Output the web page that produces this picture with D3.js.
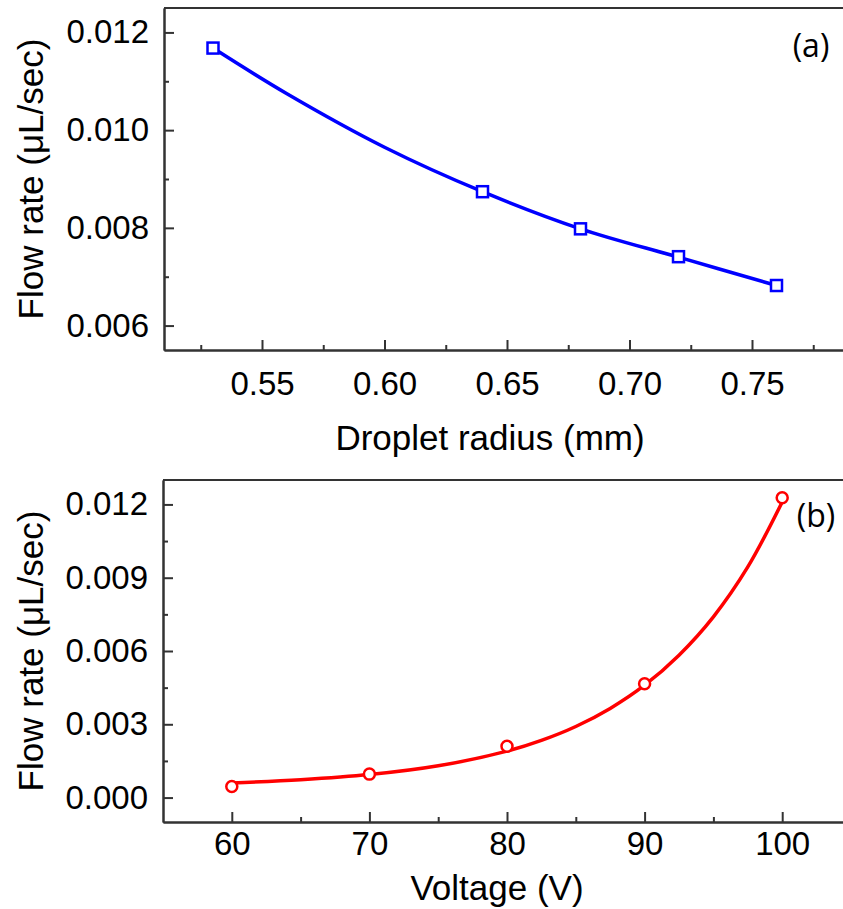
<!DOCTYPE html>
<html>
<head>
<meta charset="utf-8">
<script src="https://cdn.jsdelivr.net/npm/d3@7"></script>
<style>
  body { margin: 0; background: #fff; }
  text { font-family: Arial, "Liberation Sans", Helvetica, sans-serif; fill: #000; }
</style>
</head>
<body>
<div id="chart"></div>
<script>
// ---- panel (a): flow rate vs droplet radius
var radius = [0.53, 0.64, 0.68, 0.72, 0.76];
var flowA = [0.01168, 0.00874, 0.00798, 0.00741, 0.00682];
// fitted curve
var fitRadius = [0.53, 0.56, 0.60, 0.64, 0.68, 0.72, 0.76];
var fitFlowA = [0.01168, 0.01075, 0.00965, 0.00874, 0.00798, 0.00740, 0.00682];
var ticksXA = [0.55, 0.60, 0.65, 0.70, 0.75];
var minorXA = [0.525, 0.575, 0.625, 0.675, 0.725, 0.775];
var ticksYA = [0.006, 0.008, 0.010, 0.012];
var minorYA = [0.007, 0.009, 0.011];

// ---- panel (b): flow rate vs voltage
var voltage = [60, 70, 80, 90, 100];
var flowB = [0.00045, 0.00096, 0.0021, 0.00466, 0.01227];
var fitVoltage = [60, 65, 70, 75, 80, 82.5, 85, 87.5, 90, 92.5, 95, 97.5, 100];
var fitFlowB = [0.0006, 0.00073, 0.00094, 0.0013, 0.0019, 0.00234, 0.00291, 0.00365,
                0.0046, 0.00583, 0.0074, 0.00944, 0.0121];
var ticksXB = [60, 70, 80, 90, 100];
var minorXB = [65, 75, 85, 95];
var ticksYB = [0.000, 0.003, 0.006, 0.009, 0.012];
var minorYB = [0.0015, 0.0045, 0.0075, 0.0105];

var W = 843, H = 909;
var FONT = "Arial, 'Liberation Sans', Helvetica, sans-serif";

var svg = d3.select("#chart")
  .append("svg")
  .attr("width", W)
  .attr("height", H)
  .style("background-color", "white");

function panel(cfg) {
  var x = d3.scaleLinear().domain(cfg.xDomain).range([cfg.left, cfg.right]);
  var y = d3.scaleLinear().domain(cfg.yDomain).range([cfg.bottom, cfg.top]);
  var g = svg.append("g");

  // frame (top border; right edge falls outside the picture)
  g.append("line")
    .attr("x1", cfg.left).attr("x2", cfg.right)
    .attr("y1", cfg.top).attr("y2", cfg.top)
    .attr("stroke", "#333").attr("stroke-width", 2);

  // major + minor y ticks, pointing inward
  g.append("g")
    .attr("transform", "translate(" + cfg.left + ",0)")
    .call(d3.axisLeft(y).tickValues(cfg.yTicks).tickSize(-10).tickSizeOuter(0)
      .tickPadding(15).tickFormat(d3.format(".3f")));
  g.append("g")
    .attr("transform", "translate(" + cfg.left + ",0)")
    .call(d3.axisLeft(y).tickValues(cfg.yMinor).tickSize(-5).tickSizeOuter(0).tickFormat(""));

  g.append("g")
    .attr("transform", "translate(0," + cfg.bottom + ")")
    .call(d3.axisBottom(x).tickValues(cfg.xTicks).tickSize(-10).tickSizeOuter(0)
      .tickPadding(cfg.xPad).tickFormat(cfg.xFormat));
  g.append("g")
    .attr("transform", "translate(0," + cfg.bottom + ")")
    .call(d3.axisBottom(x).tickValues(cfg.xMinor).tickSize(-5).tickSizeOuter(0).tickFormat(""));

  g.selectAll("g").attr("font-family", FONT);
  g.selectAll(".domain").attr("stroke", "#333").attr("stroke-width", 2);
  g.selectAll(".tick line").attr("stroke", "#333").attr("stroke-width", 2);
  g.selectAll(".tick text")
    .style("font-family", FONT)
    .style("font-size", "33px")
    .attr("fill", "#000");

  // fitted curve
  var line = d3.line()
    .x(function (d) { return x(d[0]); })
    .y(function (d) { return y(d[1]); })
    .curve(d3.curveCatmullRom);
  g.append("path")
    .datum(d3.zip(cfg.fitX, cfg.fitY))
    .attr("d", line)
    .attr("fill", "none")
    .attr("stroke", cfg.color)
    .attr("stroke-width", 3.5);

  // markers
  var pts = d3.zip(cfg.dataX, cfg.dataY);
  if (cfg.marker === "square") {
    g.selectAll("rect.pt").data(pts).enter()
      .append("rect")
      .attr("x", function (d) { return x(d[0]) - 5.5; })
      .attr("y", function (d) { return y(d[1]) - 5.5; })
      .attr("width", 11).attr("height", 11)
      .attr("fill", "white")
      .attr("stroke", cfg.color)
      .attr("stroke-width", 2.5);
  } else {
    g.selectAll("circle.pt").data(pts).enter()
      .append("circle")
      .attr("cx", function (d) { return x(d[0]); })
      .attr("cy", function (d) { return y(d[1]); })
      .attr("r", 5.5)
      .attr("fill", "white")
      .attr("stroke", cfg.color)
      .attr("stroke-width", 2.5);
  }

  // axis titles
  g.append("text")
    .attr("x", cfg.xTitleX).attr("y", cfg.xTitleY)
    .attr("text-anchor", "middle")
    .style("font-family", FONT)
    .style("font-size", "35px")
    .text(cfg.xTitle);
  g.append("text")
    .attr("transform", "translate(43," + ((cfg.top + cfg.bottom) / 2) + ") rotate(-90)")
    .attr("text-anchor", "middle")
    .style("font-family", FONT)
    .style("font-size", "35px")
    .text("Flow rate (\u03bcL/sec)");

  // panel label
  g.append("text")
    .attr("x", cfg.tagX).attr("y", cfg.tagY)
    .attr("text-anchor", "middle")
    .style("font-family", "'Open Sans', Lato, sans-serif")
    .style("font-size", "32px")
    .text(cfg.tag);
}

panel({
  xDomain: [0.51, 0.79], yDomain: [0.0055, 0.0125],
  left: 164, right: 850, top: 8, bottom: 350,
  xTicks: ticksXA, xMinor: minorXA, yTicks: ticksYA, yMinor: minorYA,
  xFormat: d3.format(".2f"), xPad: 22,
  fitX: fitRadius, fitY: fitFlowA, dataX: radius, dataY: flowA,
  color: "#0000ff", marker: "square",
  xTitle: "Droplet radius (mm)", xTitleX: 490, xTitleY: 450,
  tag: "(a)", tagX: 811, tagY: 57
});

panel({
  xDomain: [55, 105], yDomain: [-0.001, 0.013],
  left: 163, right: 851, top: 480, bottom: 822,
  xTicks: ticksXB, xMinor: minorXB, yTicks: ticksYB, yMinor: minorYB,
  xFormat: d3.format("d"), xPad: 10,
  fitX: fitVoltage, fitY: fitFlowB, dataX: voltage, dataY: flowB,
  color: "#ff0000", marker: "circle",
  xTitle: "Voltage (V)", xTitleX: 497, xTitleY: 900,
  tag: "(b)", tagX: 816, tagY: 527
});
</script>
</body>
</html>
